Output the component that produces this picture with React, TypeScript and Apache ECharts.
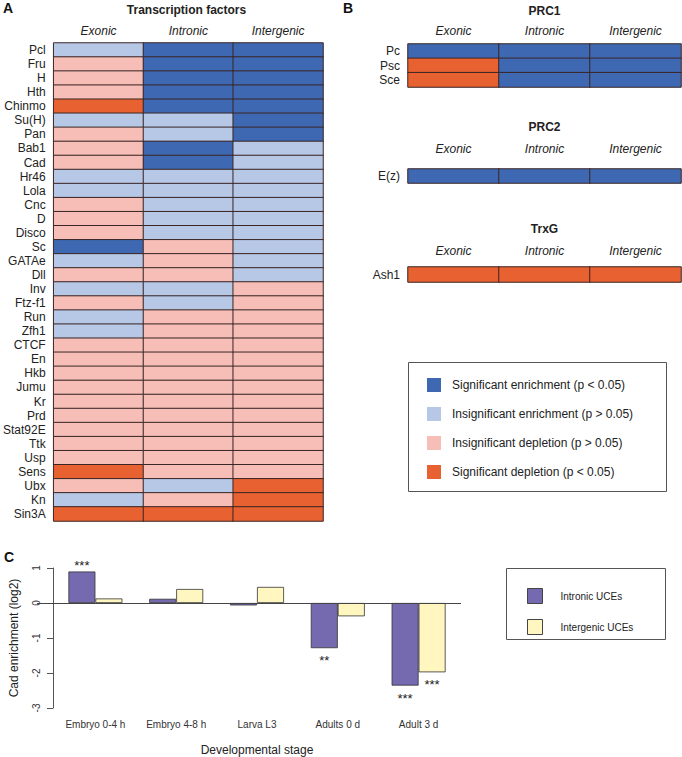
import React, { useEffect, useRef } from "react";
import * as echarts from "echarts";

// ---------- Data ----------
const regions = ["Exonic", "Intronic", "Intergenic"];
// codes: 3 = significant enrichment, 2 = insignificant enrichment,
//        1 = insignificant depletion, 0 = significant depletion
const tfNames = [
  "Pcl", "Fru", "H", "Hth", "Chinmo", "Su(H)", "Pan", "Bab1", "Cad", "Hr46",
  "Lola", "Cnc", "D", "Disco", "Sc", "GATAe", "Dll", "Inv", "Ftz-f1", "Run",
  "Zfh1", "CTCF", "En", "Hkb", "Jumu", "Kr", "Prd", "Stat92E", "Ttk", "Usp",
  "Sens", "Ubx", "Kn", "Sin3A",
];
const tfExonic = [2, 1, 1, 1, 0, 2, 1, 1, 1, 2, 2, 1, 1, 1, 3, 2, 1, 2, 1, 2, 2, 1, 1, 1, 1, 1, 1, 1, 1, 1, 0, 1, 2, 0];
const tfIntronic = [3, 3, 3, 3, 3, 2, 2, 3, 3, 2, 2, 2, 2, 2, 1, 1, 1, 2, 2, 1, 1, 1, 1, 1, 1, 1, 1, 1, 1, 1, 1, 2, 1, 0];
const tfIntergenic = [3, 3, 3, 3, 3, 3, 3, 2, 2, 2, 2, 2, 2, 2, 2, 2, 2, 1, 1, 1, 1, 1, 1, 1, 1, 1, 1, 1, 1, 1, 1, 0, 0, 0];

const prc1Names = ["Pc", "Psc", "Sce"];
const prc1Exonic = [3, 0, 0];
const prc1Intronic = [3, 3, 3];
const prc1Intergenic = [3, 3, 3];

const prc2Names = ["E(z)"];
const prc2Exonic = [3];
const prc2Intronic = [3];
const prc2Intergenic = [3];

const trxgNames = ["Ash1"];
const trxgExonic = [0];
const trxgIntronic = [0];
const trxgIntergenic = [0];

const statusLabels = [
  "Significant depletion (p < 0.05)",
  "Insignificant depletion (p > 0.05)",
  "Insignificant enrichment (p > 0.05)",
  "Significant enrichment (p < 0.05)",
];

const stages = ["Embryo 0-4 h", "Embryo 4-8 h", "Larva L3", "Adults 0 d", "Adult 3 d"];
const intronicUCE = [0.9, 0.12, -0.07, -1.29, -2.36];
const intergenicUCE = [0.13, 0.4, 0.46, -0.38, -1.98];
const intronicSig = ["***", "", "", "**", "***"];
const intergenicSig = ["", "", "", "", "***"];

// ---------- Styles ----------
const FONT = "'Liberation Sans', Arial, Helvetica, sans-serif";
const C_SIG_ENR = "#3E68B2";
const C_INS_ENR = "#B7C7E6";
const C_INS_DEP = "#F6BEB6";
const C_SIG_DEP = "#E86130";
const C_PURPLE = "#756AB0";
const C_YELLOW = "#FFF6C0";
const TXT = "#222";

function cells(ex: number[], intr: number[], inter: number[]) {
  const out: number[][] = [];
  [ex, intr, inter].forEach((col, ci) => {
    col.forEach((v, ri) => out.push([ci, ri, v]));
  });
  return out;
}

function heatAxes(gridIndex: number, names: string[], labelMargin: number) {
  return {
    x: {
      type: "category",
      gridIndex,
      data: regions,
      position: "top",
      axisLine: { show: false },
      axisTick: { show: false },
      splitLine: { show: false },
      axisLabel: { interval: 0, fontStyle: "italic", fontSize: 12, color: TXT, margin: labelMargin },
    },
    y: {
      type: "category",
      gridIndex,
      data: names,
      inverse: true,
      axisLine: { show: false },
      axisTick: { show: false },
      splitLine: { show: false },
      axisLabel: { interval: 0, fontSize: 12, color: TXT, margin: 8 },
    },
  };
}

function heatSeries(idx: number, data: number[][]) {
  return {
    type: "heatmap",
    xAxisIndex: idx,
    yAxisIndex: idx,
    data,
    itemStyle: { borderColor: "#3a2626", borderWidth: 1 },
    emphasis: { disabled: true },
    silent: true,
  };
}

export default function App() {
  const ref = useRef<HTMLDivElement>(null);

  useEffect(() => {
    if (!ref.current) return;
    const chart = echarts.init(ref.current, undefined, { renderer: "svg" });

    const aA = heatAxes(0, tfNames, 6);
    const a1 = heatAxes(1, prc1Names, 7);
    const a2 = heatAxes(2, prc2Names, 14);
    const a3 = heatAxes(3, trxgNames, 10);

    const label = (sig: string, v: number) =>
      sig
        ? {
            show: true,
            position: "outside",
            formatter: sig,
            distance: v > 0 ? 0 : 6,
            fontSize: 13,
            color: TXT,
          }
        : { show: false };

    const option: any = {
      animation: false,
      textStyle: { fontFamily: FONT },
      grid: [
        { left: 50, top: 43, width: 273, height: 478 },
        { left: 408, top: 44, width: 273, height: 43 },
        { left: 408, top: 169, width: 273, height: 14 },
        { left: 408, top: 267, width: 273, height: 15 },
        { left: 51, top: 568, width: 408, height: 140 },
      ],
      xAxis: [
        aA.x,
        a1.x,
        a2.x,
        a3.x,
        {
          type: "category",
          gridIndex: 4,
          data: stages,
          axisLine: { show: false },
          axisTick: { show: false },
          axisLabel: { interval: 0, fontSize: 10, color: "#333", margin: 11 },
          name: "Developmental stage",
          nameLocation: "middle",
          nameGap: 36,
          nameTextStyle: { fontSize: 12, color: TXT },
        },
      ],
      yAxis: [
        aA.y,
        a1.y,
        a2.y,
        a3.y,
        {
          type: "value",
          gridIndex: 4,
          min: -3,
          max: 1,
          interval: 1,
          offset: 2,
          axisLine: { show: true, lineStyle: { color: "#555", width: 1 } },
          axisTick: { show: true, length: 6, lineStyle: { color: "#555" } },
          splitLine: { show: false },
          axisLabel: { rotate: 90, fontSize: 10, color: "#333", margin: 12 },
          name: "Cad enrichment (log2)",
          nameLocation: "middle",
          nameRotate: 90,
          nameGap: 33,
          nameTextStyle: { fontSize: 12, color: TXT },
        },
      ],
      visualMap: {
        type: "piecewise",
        seriesIndex: [0, 1, 2, 3],
        pieces: [
          { value: 0, label: statusLabels[0], color: C_SIG_DEP },
          { value: 1, label: statusLabels[1], color: C_INS_DEP },
          { value: 2, label: statusLabels[2], color: C_INS_ENR },
          { value: 3, label: statusLabels[3], color: C_SIG_ENR },
        ],
        orient: "vertical",
        align: "left",
        left: 412,
        top: 363,
        itemWidth: 14,
        itemHeight: 14,
        itemGap: 15,
        textGap: 11,
        itemSymbol: "rect",
        selectedMode: false,
        hoverLink: false,
        textStyle: { fontSize: 12, color: TXT, fontFamily: FONT },
      },
      legend: {
        data: ["Intronic UCEs", "Intergenic UCEs"],
        orient: "vertical",
        left: 522,
        top: 583,
        itemWidth: 15,
        itemHeight: 15,
        itemGap: 15,
        icon: "rect",
        selectedMode: false,
        itemStyle: { borderWidth: 1, borderColor: "#444" },
        textStyle: { fontSize: 10, color: TXT, padding: [0, 0, 0, 13] },
      },
      graphic: [
        { type: "text", x: 3, y: 1, style: { text: "A", font: `bold 14px ${FONT}`, fill: "#111" } },
        { type: "text", x: 343, y: 1, style: { text: "B", font: `bold 14px ${FONT}`, fill: "#111" } },
        { type: "text", x: 4, y: 550, style: { text: "C", font: `bold 14px ${FONT}`, fill: "#111" } },
        { type: "text", x: 186.5, y: 10, style: { text: "Transcription factors", font: `bold 12px ${FONT}`, fill: TXT, align: "center", verticalAlign: "middle" } },
        { type: "text", x: 544.5, y: 11, style: { text: "PRC1", font: `bold 12px ${FONT}`, fill: TXT, align: "center", verticalAlign: "middle" } },
        { type: "text", x: 544.5, y: 127, style: { text: "PRC2", font: `bold 12px ${FONT}`, fill: TXT, align: "center", verticalAlign: "middle" } },
        { type: "text", x: 544.5, y: 229, style: { text: "TrxG", font: `bold 12px ${FONT}`, fill: TXT, align: "center", verticalAlign: "middle" } },
        { type: "rect", shape: { x: 408.5, y: 362.5, width: 258, height: 129 }, style: { fill: "none", stroke: "#555", lineWidth: 1 }, z: 0 },
        { type: "rect", shape: { x: 506.5, y: 568.5, width: 159, height: 71 }, style: { fill: "none", stroke: "#555", lineWidth: 1 }, z: 0 },
      ],
      series: [
        heatSeries(0, cells(tfExonic, tfIntronic, tfIntergenic)),
        heatSeries(1, cells(prc1Exonic, prc1Intronic, prc1Intergenic)),
        heatSeries(2, cells(prc2Exonic, prc2Intronic, prc2Intergenic)),
        heatSeries(3, cells(trxgExonic, trxgIntronic, trxgIntergenic)),
        {
          name: "Intronic UCEs",
          type: "bar",
          xAxisIndex: 4,
          yAxisIndex: 4,
          barWidth: 27,
          barGap: "0%",
          itemStyle: { color: C_PURPLE, borderColor: "#333", borderWidth: 0.8 },
          data: intronicUCE.map((v, i) => ({ value: v, label: label(intronicSig[i], v) })),
          markLine: {
            silent: true,
            symbol: ["none", "none"],
            label: { show: false },
            lineStyle: { color: "#444", width: 1, type: "solid" },
            data: [[{ x: 37, yAxis: 0 }, { x: 461, yAxis: 0 }]],
          },
        },
        {
          name: "Intergenic UCEs",
          type: "bar",
          xAxisIndex: 4,
          yAxisIndex: 4,
          barWidth: 27,
          barGap: "0%",
          itemStyle: { color: C_YELLOW, borderColor: "#333", borderWidth: 0.8 },
          data: intergenicUCE.map((v, i) => ({ value: v, label: label(intergenicSig[i], v) })),
        },
      ],
    };

    chart.setOption(option);
    return () => chart.dispose();
  }, []);

  return (
    <div
      ref={ref}
      style={{ position: "absolute", left: 0, top: 0, width: 682, height: 757, background: "#fff" }}
    />
  );
}
